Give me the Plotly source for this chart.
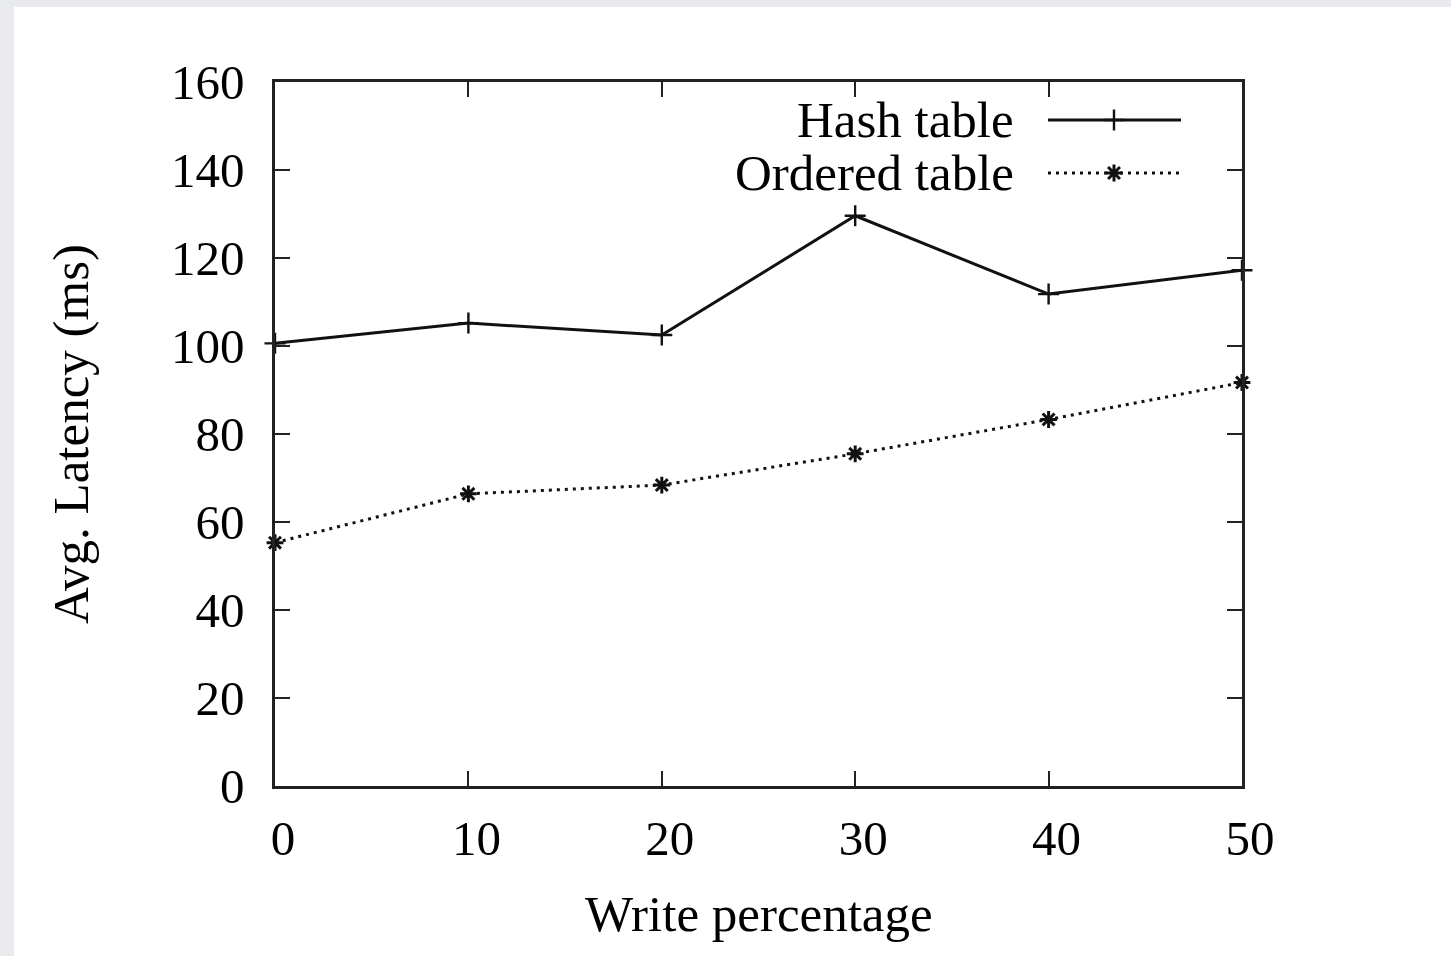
import plotly.graph_objects as go

# ---- data ----
write_pct = [0, 10, 20, 30, 40, 50]
hash_table = [100.6, 105.2, 102.5, 129.6, 111.8, 117.2]
ordered_table = [55.3, 66.4, 68.4, 75.5, 83.3, 91.7]
series_names = ["Hash table", "Ordered table"]
x_ticks = [0, 10, 20, 30, 40, 50]
y_ticks = [0, 20, 40, 60, 80, 100, 120, 140, 160]
x_title = "Write percentage"
y_title = "Avg. Latency (ms)"

FONT = "Liberation Serif, Times New Roman, serif"
FS = 49
FS_T = 51
W, H = 1451, 956
ML, MR, MT, MB = 275, 209, 82, 170
PW, PH = W - ML - MR, H - MT - MB

def px_x(p):
    return (p - ML) / PW

def px_y(p):
    return (H - MB - p) / PH

LW = 3
DOT = "3px,5px"
line_styles = [dict(color="#111", width=LW), dict(color="#111", width=LW, dash=DOT)]
marker_styles = [
    dict(symbol="cross-thin-open", size=15, color="#111", line=dict(color="#111", width=2.4)),
    dict(symbol="asterisk-open", size=14, color="#111", line=dict(color="#111", width=3)),
]

fig = go.Figure()

for name, vals, ls, ms in zip(series_names, [hash_table, ordered_table], line_styles, marker_styles):
    fig.add_trace(go.Scatter(
        x=write_pct, y=vals, mode="lines+markers", name=name,
        line=ls, marker=ms, showlegend=False, cliponaxis=False))

# custom legend (samples to the right of right-aligned text)
leg_rows = [px_y(120), px_y(173)]
leg_x0, leg_x1, leg_xm = px_x(1048), px_x(1181), px_x(1114)
leg_text_x = px_x(1016)
for i, name in enumerate(series_names):
    fig.add_trace(go.Scatter(x=[leg_x0, leg_x1], y=[leg_rows[i], leg_rows[i]], mode="lines",
                             line=line_styles[i], xaxis="x2", yaxis="y2", showlegend=False,
                             hoverinfo="skip"))
    fig.add_trace(go.Scatter(x=[leg_xm], y=[leg_rows[i]], mode="markers", marker=marker_styles[i],
                             xaxis="x2", yaxis="y2", showlegend=False, hoverinfo="skip"))
    fig.add_annotation(x=leg_text_x, y=leg_rows[i], xref="paper", yref="paper",
                       text=name, showarrow=False, xanchor="right", yanchor="middle",
                       font=dict(family=FONT, size=FS_T, color="black"))

# titles
fig.add_annotation(x=0.5, y=0, xref="paper", yref="paper", text=x_title, showarrow=False,
                   xanchor="center", yanchor="middle", yshift=-(914 - (H - MB)),
                   font=dict(family=FONT, size=FS_T, color="black"))
fig.add_annotation(x=0, y=0.5, xref="paper", yref="paper", text=y_title, showarrow=False,
                   xanchor="center", yanchor="middle", xshift=-(ML - 71), textangle=-90,
                   font=dict(family=FONT, size=FS_T, color="black"))

# white page over gray border
fig.add_shape(type="rect", xref="paper", yref="paper", layer="below",
              x0=px_x(14), x1=px_x(W + 20), y0=px_y(H + 20), y1=px_y(7),
              fillcolor="white", line=dict(width=0))

axis_common = dict(showline=True, linecolor="#222", linewidth=2.5, mirror="ticks",
                   ticks="inside", ticklen=15, tickwidth=2.2, tickcolor="#222",
                   showgrid=False, zeroline=False,
                   tickfont=dict(family=FONT, size=FS, color="black"))

fig.update_layout(
    width=W, height=H,
    margin=dict(l=ML, r=MR, t=MT, b=MB),
    paper_bgcolor="#e9eaee", plot_bgcolor="white",
    xaxis=dict(range=[0, 50], tickmode="array", tickvals=x_ticks, ticklabelshift=8,
               ticklabelstandoff=7, **axis_common),
    yaxis=dict(range=[0, 160], tickmode="array", tickvals=y_ticks,
               ticklabelstandoff=18, **axis_common),
    xaxis2=dict(overlaying="x", range=[0, 1], visible=False, fixedrange=True),
    yaxis2=dict(overlaying="y", range=[0, 1], visible=False, fixedrange=True),
)

fig.write_html("out.html")
